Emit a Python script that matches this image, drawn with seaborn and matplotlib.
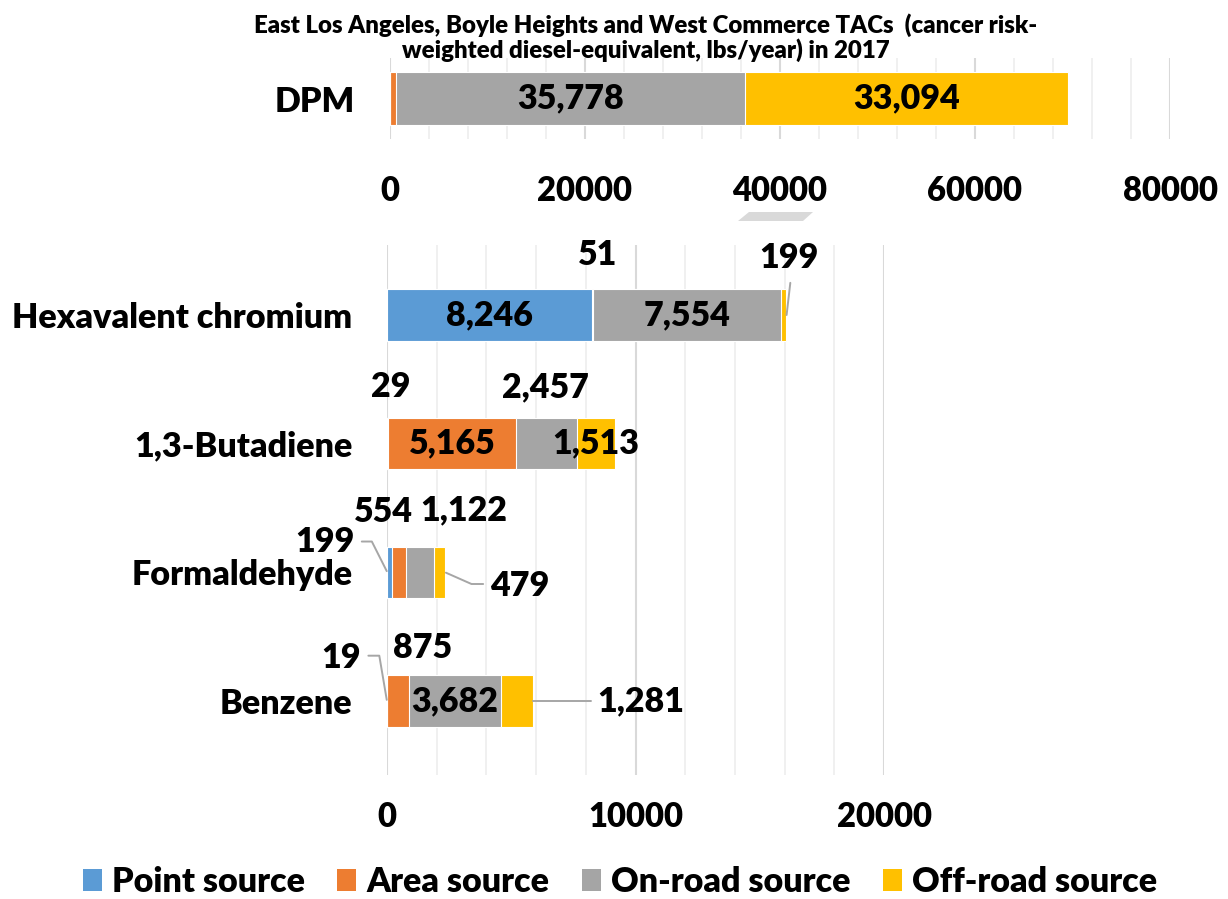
import matplotlib
matplotlib.use("Agg")
import matplotlib.pyplot as plt
import seaborn as sns
import numpy as np
import pandas as pd
from matplotlib.patches import Polygon, Patch

# ---------------- data ----------------
sources = ["Point source", "Area source", "On-road source", "Off-road source"]
colors = ["#5B9BD5", "#ED7D31", "#A5A5A5", "#FFC000"]

top_categories = ["DPM"]
top_point = [0]
top_area = [640]
top_onroad = [35778]
top_offroad = [33094]

categories = ["Hexavalent chromium", "1,3-Butadiene", "Formaldehyde", "Benzene"]
point = [8246, 29, 199, 19]
area = [51, 5165, 554, 875]
onroad = [7554, 2457, 1122, 3682]
offroad = [199, 1513, 479, 1281]

top_ticks = [0, 20000, 40000, 60000, 80000]
bottom_ticks = [0, 10000, 20000]

title_lines = ["East Los Angeles, Boyle Heights and West Commerce TACs  (cancer risk-",
               "weighted diesel-equivalent, lbs/year) in 2017"]

# ---------------- style ----------------
sns.set_theme(style="white")
plt.rcParams['font.family'] = ['Lato', 'DejaVu Sans']
WT = 800
plt.rcParams['font.weight'] = WT
plt.rcParams['text.color'] = 'black'
plt.rcParams['xtick.color'] = 'black'
plt.rcParams['ytick.color'] = 'black'
plt.rcParams['xtick.labelcolor'] = 'black'
plt.rcParams['ytick.labelcolor'] = 'black'

W, H = 1228, 899
fig = plt.figure(figsize=(W / 100, H / 100), dpi=100)


def axrect(l, t, r, b):
    return [l / W, 1 - b / H, (r - l) / W, (b - t) / H]


ax_top = fig.add_axes(axrect(390, 58, 1170, 139))
ax_bot = fig.add_axes(axrect(387, 245, 884, 775))

FS_DATA = 24.5
FS_CAT = 24.6
FS_TICK = 23.6
FS_LEG = 24.5
FS_TITLE = 17.3


def stacked(ax, cats, series, width):
    df = pd.DataFrame({"category": cats})
    cum = np.cumsum(np.array(series, dtype=float), axis=0)
    for i in reversed(range(len(series))):
        df["value"] = cum[i]
        sns.barplot(data=df, x="value", y="category", orient="y", color=colors[i],
                    width=width, ax=ax, edgecolor="white", linewidth=0.8,
                    saturation=1, errorbar=None, zorder=3)


stacked(ax_top, top_categories, [top_point, top_area, top_onroad, top_offroad], 0.65)
stacked(ax_bot, categories, [point, area, onroad, offroad], 0.40)


def style_axis(ax, ticks, minor_step, xmax, ylim, xpad):
    ax.set_xlim(0, xmax)
    ax.set_ylim(*ylim)
    ax.set_xticks(ticks)
    ax.set_xticks(np.arange(0, xmax + 1, minor_step), minor=True)
    ax.set_xticklabels([str(t) for t in ticks])
    ax.grid(False)
    ax.grid(which="major", axis="x", color="#D9D9D9", lw=1.5, zorder=0)
    ax.grid(which="minor", axis="x", color="#EEEEEE", lw=1.2, zorder=0)
    ax.set_axisbelow(True)
    for s in ax.spines.values():
        s.set_visible(False)
    ax.tick_params(axis="x", which="both", length=0, pad=xpad, labelsize=FS_TICK,
                   labelcolor="black")
    ax.tick_params(axis="y", length=0, pad=25, labelsize=FS_CAT, labelcolor="black")
    for lab in ax.get_xticklabels() + ax.get_yticklabels():
        lab.set_fontweight(WT)
    ax.set_xlabel("")
    ax.set_ylabel("")


style_axis(ax_top, top_ticks, 4000, 80000, (0.5, -0.5), 26)
style_axis(ax_bot, bottom_ticks, 2000, 20000, (3.574, -0.544), 19)


def txt(ax, x, y, s):
    ax.text(x, y, s, ha="center", va="center", fontsize=FS_DATA, fontweight=WT,
            color="black", zorder=5, clip_on=False)


def fmt(v):
    return f"{v:,}"


# top labels
txt(ax_top, top_point[0] + top_area[0] + top_onroad[0] / 2, 0, fmt(top_onroad[0]))
txt(ax_top, top_point[0] + top_area[0] + top_onroad[0] + top_offroad[0] / 2, 0, fmt(top_offroad[0]))

# bottom labels
lead = dict(color="#A6A6A6", lw=1.4, clip_on=False, zorder=4)
# Hexavalent chromium
txt(ax_bot, point[0] / 2, 0, fmt(point[0]))
txt(ax_bot, point[0] + area[0] + onroad[0] / 2, 0, fmt(onroad[0]))
txt(ax_bot, 8470, -0.47, fmt(area[0]))
txt(ax_bot, 16180, -0.44, fmt(offroad[0]))
ax_bot.plot([16230, 16080], [-0.25, 0.0], **lead)
# 1,3-Butadiene
txt(ax_bot, point[1] + area[1] / 2, 1, fmt(area[1]))
txt(ax_bot, point[1] + area[1] + onroad[1] + offroad[1] / 2, 1, fmt(offroad[1]))
txt(ax_bot, 160, 0.563, fmt(point[1]))
txt(ax_bot, 6390, 0.563, fmt(onroad[1]))
# Formaldehyde
txt(ax_bot, -140, 1.531, fmt(area[2]))
txt(ax_bot, 3090, 1.515, fmt(onroad[2]))
txt(ax_bot, -2510, 1.764, fmt(point[2]))
ax_bot.plot([-1015, -610, -10], [1.76, 1.76, 1.99], **lead)
txt(ax_bot, 5320, 2.106, fmt(offroad[2]))
ax_bot.plot([2370, 3400, 3870], [2.002, 2.09, 2.09], **lead)
# Benzene
txt(ax_bot, 1450, 2.59, fmt(area[3]))
txt(ax_bot, -1850, 2.665, fmt(point[3]))
ax_bot.plot([-750, -310, -10], [2.647, 2.647, 2.99], **lead)
txt(ax_bot, point[3] + area[3] + onroad[3] / 2, 3, fmt(onroad[3]))
txt(ax_bot, 10230, 3.0, fmt(offroad[3]))
ax_bot.plot([5880, 8220], [3.0, 3.0], **lead)

# title
fig.text(646 / W, 1 - 25 / H, title_lines[0], ha="center", va="center", fontsize=FS_TITLE, fontweight=WT)
fig.text(646 / W, 1 - 50 / H, title_lines[1], ha="center", va="center", fontsize=FS_TITLE, fontweight=WT)

# decorative shape
pts = [(738, 221), (749, 212), (813, 212), (803, 221)]
fig.patches.append(Polygon([(x / W, 1 - y / H) for x, y in pts], closed=True,
                           transform=fig.transFigure, facecolor="#D9D9D9", edgecolor="none"))

# legend
handles = [Patch(facecolor=c, edgecolor="none") for c in colors]
fig.legend(handles, sources, loc="center", bbox_to_anchor=(620 / W, 1 - 882 / H), ncol=4,
           frameon=False, prop={"size": FS_LEG, "weight": WT}, handlelength=0.56,
           handleheight=0.65, handletextpad=0.3, columnspacing=0.95)

fig.savefig("out.png", dpi=100)
